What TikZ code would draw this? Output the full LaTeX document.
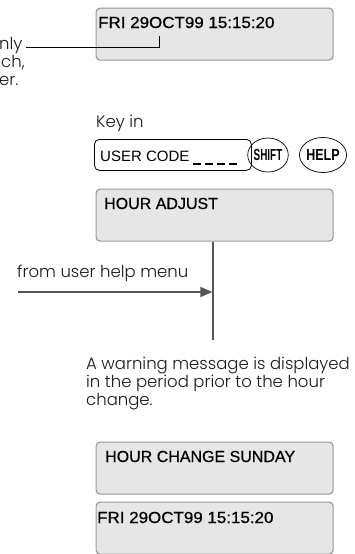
\documentclass[tikz,border=0pt]{standalone}
\usepackage{fontspec}
\setmainfont{Poppins Light}
\newfontfamily\boxfont[FakeBold=0.6]{Liberation Sans}
\newfontfamily\keyfont{Liberation Sans}
\usetikzlibrary{arrows.meta,shapes.geometric}
\definecolor{lcdfill}{HTML}{E6E6E6}
\definecolor{lcdborder}{HTML}{9A9A9A}
\definecolor{flowgray}{HTML}{555555}
\definecolor{txt}{HTML}{1A1A1A}
\begin{document}
\begin{tikzpicture}[x=1pt,y=-1pt,
  lcd/.style={draw=lcdborder, fill=lcdfill, rounded corners=4pt, line width=1.2pt,
    minimum width=237pt, minimum height=52pt, inner sep=0pt, anchor=north west},
  lcdtext/.style={anchor=base west, inner sep=0pt, font=\boxfont\fontsize{16}{18}\selectfont, text=black},
  body/.style={anchor=base west, inner sep=0pt, font=\fontsize{16.5}{18}\selectfont, text=txt},
  keycirc/.style={draw=black, ellipse, line width=0.7pt, inner sep=0pt},
  flow/.style={draw=flowgray, line width=1.3pt}]
\useasboundingbox (0,0) rectangle (355,554);
\clip (0,0) rectangle (355,554);

% top display
\node[lcd] (b1) at (95.5,7.5) {};
\node[lcdtext] (t1) at (98,28) {\scalebox{1.06}[1]{FRI 29OCT99 15:15:20}};

% cut-off note at left
\node[body] (n1) at (-1,49) {nly};
\node[body] (n2) at (1,67) {ch,};
\node[body] (n3) at (-1,85) {er.};
\coordinate (cs) at (26,47);
\coordinate (ce) at (159,36);
\draw[black, line width=0.8pt] (cs) -- (cs -| ce) -- (ce);

% key in
\node[body] (keyin) at (96,127) {Key in};
\node[draw=black, line width=0.8pt, rounded corners=5pt, minimum width=157pt, minimum height=31pt,
  inner sep=0pt, anchor=north west] (uc) at (94,139) {};
\node[anchor=base west, inner sep=0pt, font=\keyfont\fontsize{15}{18}\selectfont] (uct) at (100,161) {USER CODE};
\draw[black, line width=2pt, dash pattern=on 8pt off 4pt] (193,164) -- (237,164);
\node[keycirc, minimum width=30pt, minimum height=34pt] (shift) at (268,155)
  {\scalebox{0.62}[1]{\keyfont\bfseries\fontsize{16}{18}\selectfont SHIFT}};
\node[keycirc, minimum width=36pt, minimum height=35pt] (help) at (323,155)
  {\scalebox{0.78}[1]{\keyfont\bfseries\fontsize{16}{18}\selectfont HELP}};

% hour adjust
\node[lcd] (b2) at (95.5,188.5) {};
\node[lcdtext] (t2) at (104,209) {HOUR ADJUST};

\coordinate (vend) at (213,340);
\draw[flow] (b2.south -| vend) -- (vend);
\node[body] (from) at (17,277) {from user help menu};
\coordinate (astart) at (18,292);
\draw[flow, -{Triangle[length=12pt,width=10pt]}, shorten >=0.6pt] (astart) -- (astart -| vend);

% warning text
\node[body] (w1) at (86,369) {A warning message is displayed};
\node[body] (w2) at (86,387) {in the period prior to the hour};
\node[body] (w3) at (86,405) {change.};

% lower displays
\node[lcd] (b3) at (95.5,441.5) {};
\node[lcdtext] (t3) at (105,462) {HOUR CHANGE SUNDAY};
\node[lcd] (b4) at (95.5,501.5) {};
\node[lcdtext] (t4) at (97,523) {\scalebox{1.06}[1]{FRI 29OCT99 15:15:20}};
\end{tikzpicture}
\end{document}
